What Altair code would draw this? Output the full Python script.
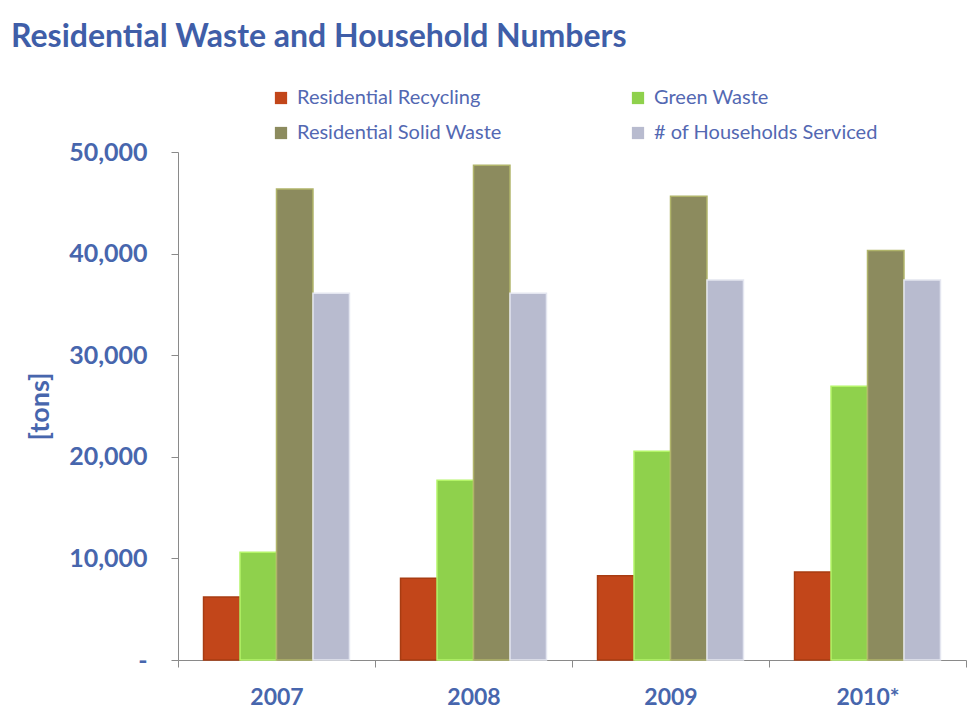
import altair as alt
import pandas as pd

years = ["2007", "2008", "2009", "2010*"]
series = ["Residential Recycling", "Green Waste", "Residential Solid Waste", "# of Households Serviced"]
recycling = [6200, 8050, 8300, 8650]
green = [10600, 17700, 20550, 26950]
solid = [46350, 48700, 45650, 40300]
households = [36100, 36100, 37400, 37400]
colors = ["#c2461a", "#8fd14c", "#8c8b5e", "#b8bbcf"]
edges = ["#a83c12", "#b4f468", "#b0b46a", "#e4e6f0"]

rows = []
for s, vals in zip(series, [recycling, green, solid, households]):
    for y, v in zip(years, vals):
        rows.append({"Year": y, "Series": s, "Value": v})
df = pd.DataFrame(rows)

blue = "#4766ad"
font = "Lato"

x = alt.X(
    "Year:N", sort=years, title=None,
    scale=alt.Scale(paddingInner=0, paddingOuter=0),
    axis=alt.Axis(labelAngle=0, tickBand="extent", labelFontSize=23, labelFontWeight="bold",
                  labelColor=blue, labelFont=font, tickSize=7, labelPadding=19,
                  domainColor="#8a8a8a", tickColor="#8a8a8a"),
)
y = alt.Y(
    "Value:Q", title="[tons]",
    scale=alt.Scale(domain=[0, 50000], nice=False),
    axis=alt.Axis(values=[0, 10000, 20000, 30000, 40000, 50000],
                  labelExpr="datum.value == 0 ? '-' : format(datum.value, ',')",
                  grid=False, tickSize=7, labelPadding=24, labelFontSize=25, labelFontWeight="bold",
                  labelColor=blue, labelFont=font, titleFont=font, titleFontSize=27,
                  titleFontWeight="bold", titleColor=blue, titlePadding=14,
                  domainColor="#8a8a8a", tickColor="#8a8a8a"),
)

chart = alt.Chart(df).mark_bar(strokeWidth=1.5).encode(
    x=x,
    xOffset=alt.XOffset("Series:N", sort=series, scale=alt.Scale(paddingInner=0, paddingOuter=0.7)),
    y=y,
    color=alt.Color(
        "Series:N", sort=series, title=None,
        scale=alt.Scale(domain=series, range=colors),
        legend=alt.Legend(orient="none", direction="horizontal", legendX=93, legendY=-64,
                          columns=2, columnPadding=126, rowPadding=15, symbolType="square",
                          symbolSize=150, symbolStrokeWidth=0, labelFont=font, labelFontSize=20,
                          labelColor="#5368b2", labelOffset=6, labelLimit=0),
    ),
    stroke=alt.Stroke("Series:N", sort=series, scale=alt.Scale(domain=series, range=edges), legend=None),
).properties(
    width=788, height=508,
    title=alt.TitleParams("Residential Waste and Household Numbers", anchor="start", frame="group",
                          fontSize=32, font=font, fontWeight="bold", color="#3f5ea8", dx=-167, dy=-30),
    autosize=alt.AutoSizeParams(type="none"),
    padding={"left": 178, "top": 152, "right": 10, "bottom": 57},
).configure_view(stroke=None)

chart.save("out.html", embed_options={"renderer": "svg", "actions": False})
